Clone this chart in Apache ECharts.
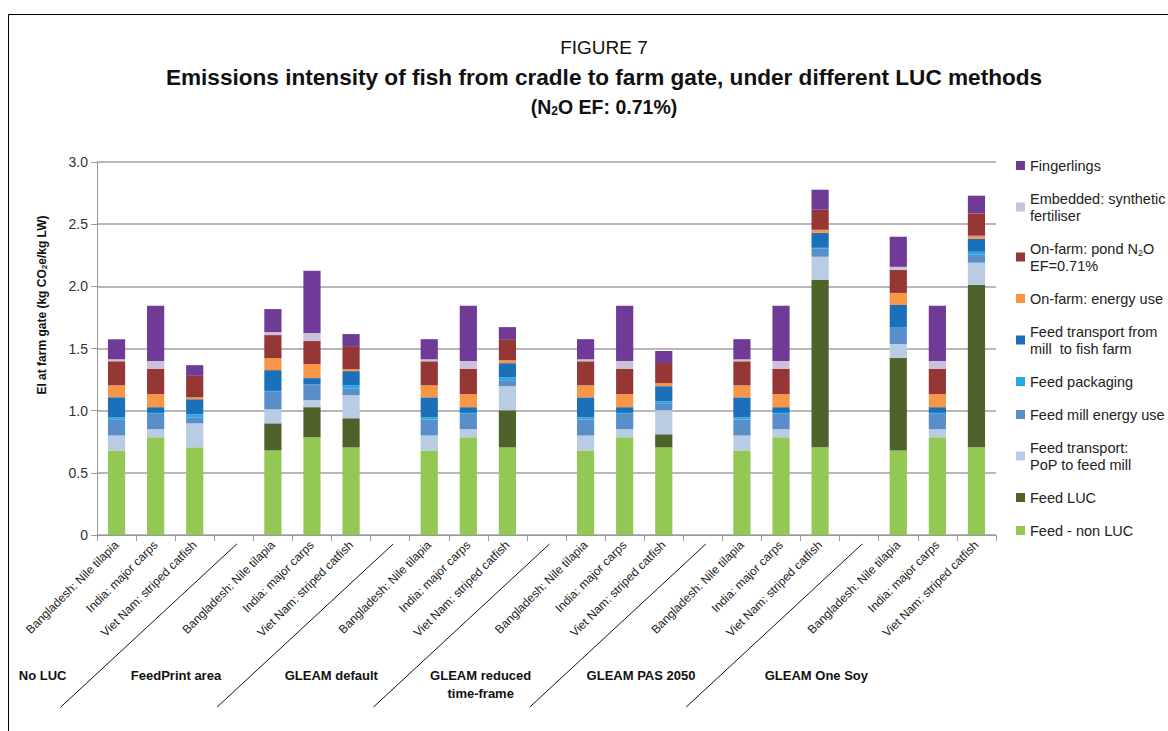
<!DOCTYPE html>
<html>
<head>
<meta charset="utf-8">
<script src="https://cdn.jsdelivr.net/npm/echarts@6/dist/echarts.min.js"></script>
<style>
html,body{margin:0;padding:0;background:#fff;}
#c{width:1168px;height:731px;}
</style>
</head>
<body>
<div id="c"></div>
<script>
// ---------- data ----------
const categories = [
  'Bangladesh: Nile tilapia','India: major carps','Viet Nam: striped catfish','',
  'Bangladesh: Nile tilapia','India: major carps','Viet Nam: striped catfish','',
  'Bangladesh: Nile tilapia','India: major carps','Viet Nam: striped catfish','',
  'Bangladesh: Nile tilapia','India: major carps','Viet Nam: striped catfish','',
  'Bangladesh: Nile tilapia','India: major carps','Viet Nam: striped catfish','',
  'Bangladesh: Nile tilapia','India: major carps','Viet Nam: striped catfish'
];
const groupNames = ['No LUC','FeedPrint area','GLEAM default','GLEAM reduced\ntime-frame','GLEAM PAS 2050','GLEAM One Soy'];

const feedNonLuc   = [0.68,0.786,0.705,null, 0.68,0.786,0.705,null, 0.68,0.786,0.705,null, 0.68,0.786,0.705,null, 0.68,0.786,0.705,null, 0.68,0.786,0.705];
const feedLuc      = [0,0,0,null, 0.218,0.242,0.234,null, 0,0,0.298,null, 0,0,0.105,null, 0,0,1.348,null, 0.743,0,1.308];
const popTransport = [0.12,0.065,0.193,null, 0.113,0.057,0.185,null, 0.12,0.065,0.194,null, 0.12,0.065,0.194,null, 0.12,0.065,0.185,null, 0.113,0.065,0.177];
const millEnergy   = [0.13,0.123,0.049,null, 0.14,0.121,0.056,null, 0.13,0.123,0.048,null, 0.13,0.123,0.056,null, 0.13,0.123,0.064,null, 0.129,0.123,0.064];
const packaging    = [0.017,0.008,0.024,null, 0.008,0.005,0.025,null, 0.017,0.008,0.024,null, 0.017,0.008,0.016,null, 0.017,0.008,0.008,null, 0.008,0.008,0.024];
const millTransport= [0.16,0.046,0.121,null, 0.167,0.051,0.113,null, 0.16,0.046,0.113,null, 0.16,0.046,0.121,null, 0.16,0.046,0.121,null, 0.177,0.046,0.105];
const farmEnergy   = [0.097,0.105,0.016,null, 0.096,0.113,0.016,null, 0.097,0.105,0.024,null, 0.097,0.105,0.024,null, 0.097,0.105,0.024,null, 0.097,0.105,0.024];
const pondN2O      = [0.193,0.202,0.172,null, 0.186,0.185,0.185,null, 0.193,0.202,0.169,null, 0.193,0.202,0.162,null, 0.193,0.202,0.161,null, 0.186,0.202,0.179];
const fertiliser   = [0.016,0.064,0,null, 0.024,0.065,0,null, 0.016,0.064,0,null, 0.016,0.064,0,null, 0.016,0.064,0,null, 0.024,0.064,0];
const fingerlings  = [0.162,0.444,0.086,null, 0.185,0.5,0.097,null, 0.162,0.444,0.097,null, 0.162,0.444,0.097,null, 0.162,0.444,0.161,null, 0.242,0.444,0.143];

const seriesNames = [
  'Feed - non LUC','Feed LUC','Feed transport: PoP to feed mill','Feed mill energy use',
  'Feed packaging','Feed transport from mill to fish farm','On-farm: energy use',
  'On-farm: pond N2O EF=0.71%','Embedded: synthetic fertiliser','Fingerlings'
];
const seriesData = [feedNonLuc, feedLuc, popTransport, millEnergy, packaging, millTransport, farmEnergy, pondN2O, fertiliser, fingerlings];

// ---------- styles ----------
const colors = ['#94c854','#50622c','#b9cce4','#5a8ecb','#27a9e1','#1b70b9','#f79646','#953735','#ccc1da','#703a97'];
const legendLabels = {
  'Feed - non LUC':'Feed - non LUC',
  'Feed LUC':'Feed LUC',
  'Feed transport: PoP to feed mill':'Feed transport:\nPoP to feed mill',
  'Feed mill energy use':'Feed mill energy use',
  'Feed packaging':'Feed packaging',
  'Feed transport from mill to fish farm':'Feed transport from\nmill  to fish farm',
  'On-farm: energy use':'On-farm: energy use',
  'On-farm: pond N2O EF=0.71%':'On-farm: pond N{sub|2}O\nEF=0.71%',
  'Embedded: synthetic fertiliser':'Embedded: synthetic\nfertiliser',
  'Fingerlings':'Fingerlings'
};
const FONT = '"Liberation Sans", Arial, Helvetica, sans-serif';

const chart = echarts.init(document.getElementById('c'), null, {renderer:'svg'});

const option = {
  animation: false,
  backgroundColor: '#ffffff',
  grid: {left: 97, top: 162, right: 172, bottom: 196, containLabel: false},
  legend: {
    orient: 'vertical', left: 1016, top: 157, padding: 0,
    itemWidth: 9, itemHeight: 9, itemGap: 16, icon: 'rect',
    data: seriesNames.slice().reverse(),
    formatter: n => legendLabels[n],
    selectedMode: false,
    textStyle: {fontFamily: FONT, fontSize: 14.5, color: '#222', lineHeight: 17,
      rich: {sub: {fontSize: 9, lineHeight: 9, verticalAlign: 'bottom', fontFamily: FONT, color: '#222'}}}
  },
  xAxis: {
    type: 'category', data: categories,
    axisLine: {lineStyle: {color: '#9a9a9a', width: 1}},
    axisTick: {show: true, interval: 0, length: 6, lineStyle: {color: '#9a9a9a'}},
    axisLabel: {interval: 0, rotate: 45, fontSize: 12, fontFamily: FONT, color: '#222', margin: 8}
  },
  yAxis: {
    type: 'value', min: 0, max: 3, interval: 0.5,
    axisLine: {show: true, lineStyle: {color: '#9a9a9a'}},
    axisTick: {show: true, length: 6, lineStyle: {color: '#9a9a9a'}},
    splitLine: {lineStyle: {color: '#a0a0a0', width: 1.5}},
    axisLabel: {fontSize: 14, fontFamily: FONT, color: '#333', margin: 9,
      formatter: v => v === 0 ? '0' : v.toFixed(1)}
  },
  series: seriesNames.map((name, i) => ({
    name, type: 'bar', stack: 'total', data: seriesData[i],
    barWidth: '44%',
    itemStyle: {color: colors[i]},
    emphasis: {disabled: true}
  }))
};
chart.setOption(option);

// ---------- decorations (positions derived from the category axis) ----------
const groupLabelDx = [-113, -136, -137, -144, -140, -121];
const graphics = [];
graphics.push({type:'rect', shape:{x:8.5, y:14.5, width:1300, height:900}, style:{fill:'none', stroke:'#000', lineWidth:1}, silent:true});
graphics.push({type:'text', x:604, y:47, style:{text:'FIGURE 7', font:'19px ' + FONT, fill:'#111', textAlign:'center', textVerticalAlign:'middle'}});
graphics.push({type:'text', x:604, y:77, style:{text:'Emissions intensity of fish from cradle to farm gate, under different LUC methods', font:'bold 22.6px ' + FONT, fill:'#111', textAlign:'center', textVerticalAlign:'middle'}});
graphics.push({type:'text', x:604, y:107, style:{text:'(N{sub|2}O EF: 0.71%)', font:'bold 19.5px ' + FONT, fill:'#111', textAlign:'center', textVerticalAlign:'middle',
  rich:{sub:{font:'bold 12px ' + FONT, fill:'#111', lineHeight:12, verticalAlign:'bottom'}}}});
graphics.push({type:'text', x:42, y:305, rotation:Math.PI/2, style:{text:'EI at farm gate (kg CO{sub|2}e/kg LW)', font:'bold 12px ' + FONT, fill:'#111', textAlign:'center', textVerticalAlign:'middle',
  rich:{sub:{font:'bold 8px ' + FONT, fill:'#111', lineHeight:8, verticalAlign:'bottom'}}}});

groupNames.forEach((g, i) => {
  const mid = chart.convertToPixel({xAxisIndex:0}, i*4 + 1);
  graphics.push({type:'text', x: mid + groupLabelDx[i], y: 666,
    style:{text:g, font:'bold 13px ' + FONT, fill:'#111', textAlign:'center', textVerticalAlign:'top', lineHeight:18}});
  if (i < groupNames.length - 1) {
    const bx = chart.convertToPixel({xAxisIndex:0}, i*4 + 3);
    graphics.push({type:'line', shape:{x1: bx + 3, y1: 544, x2: bx - 173, y2: 707}, style:{stroke:'#111', lineWidth:1}, silent:true});
  }
});
chart.setOption({graphic: graphics});
</script>
</body>
</html>
